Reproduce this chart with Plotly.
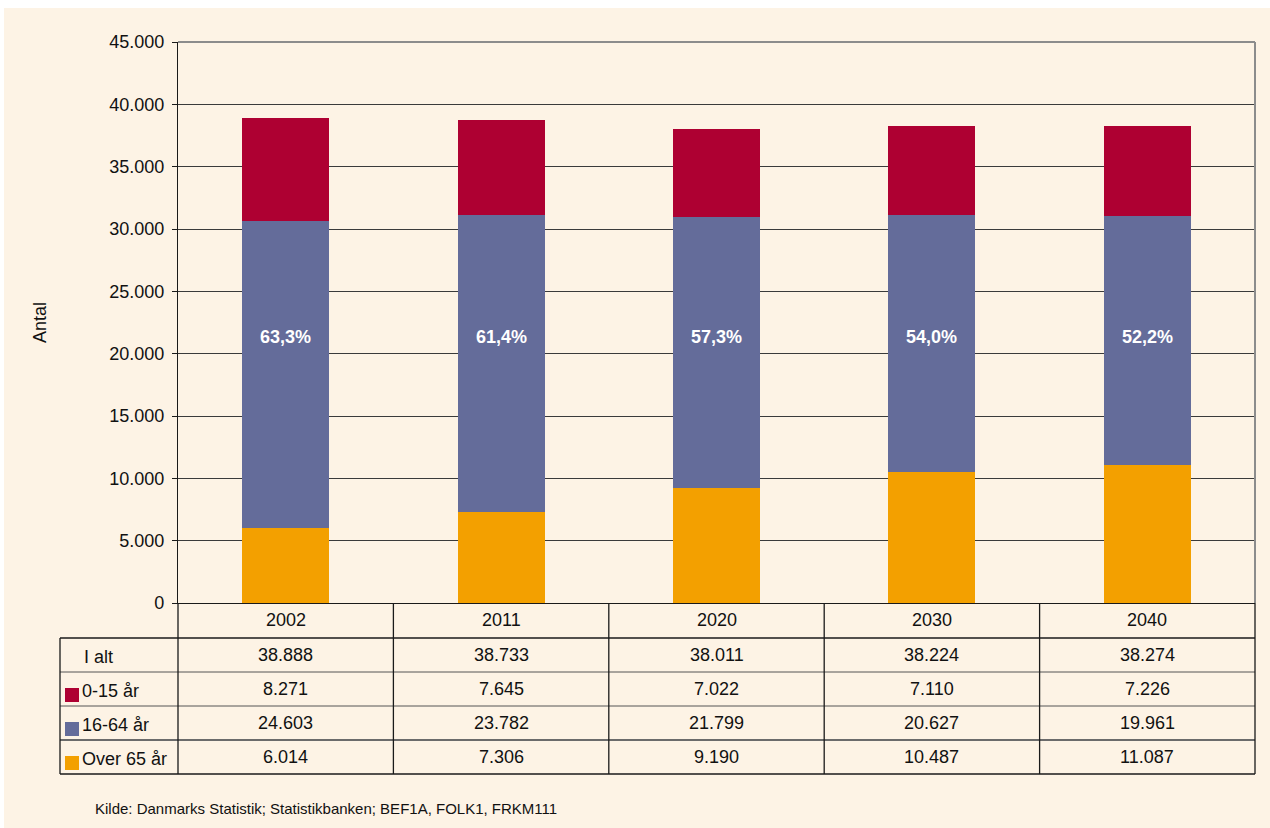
import plotly.graph_objects as go

years = ["2002", "2011", "2020", "2030", "2040"]
total = [38888, 38733, 38011, 38224, 38274]
age_0_15 = [8271, 7645, 7022, 7110, 7226]
age_16_64 = [24603, 23782, 21799, 20627, 19961]
age_65 = [6014, 7306, 9190, 10487, 11087]

colors = {"0-15 år": "#AE0032", "16-64 år": "#646C9A", "Over 65 år": "#F3A000"}

BG = "#FDF3E5"
FONT = "Liberation Sans, Arial, sans-serif"
FS = 18

W, H = 1270, 828
L, R, T, B = 178, 15, 42, 225
plot_h = H - T - B


def fmt(v):
    return f"{v:,}".replace(",", ".")


def py(pix):
    return (H - B - pix) / plot_h


def px(pix):
    return (pix - L) / (W - L - R)


fig = go.Figure()
fig.add_bar(x=years, y=age_65, name="Over 65 år", marker_color=colors["Over 65 år"], marker_line_width=0)
fig.add_bar(x=years, y=age_16_64, name="16-64 år", marker_color=colors["16-64 år"], marker_line_width=0)
fig.add_bar(x=years, y=age_0_15, name="0-15 år", marker_color=colors["0-15 år"], marker_line_width=0)

shapes = []
annotations = []

shapes.append(dict(type="rect", xref="paper", yref="paper", x0=px(4), x1=px(1275), y0=py(835), y1=py(8),
                   fillcolor=BG, line_width=0, layer="below"))

# category index of each year on the category x axis
for i, (mid, tot) in enumerate(zip(age_16_64, total)):
    annotations.append(dict(x=i, y=21300, xref="x", yref="y", text=f"{mid / tot * 100:.1f}%".replace(".", ","),
                            showarrow=False, yanchor="middle",
                            font=dict(color="white", size=FS, family=FONT, weight="bold")))

row_edges = [603, 638, 672, 706, 740, 774]
col_edges = [L + i * (1255 - L) / 5 for i in range(6)]
tbl_left = 60
dark = "#1a1a1a"
for i, yy in enumerate(row_edges[1:], start=1):
    color = dark if i in (1, 5) else "#555555"
    width = 1.3 if i in (1, 5) else 1
    if i == 4:
        color, width = "#6b6b6b", 2
    shapes.append(dict(type="line", xref="paper", yref="paper", x0=px(tbl_left), x1=px(1255), y0=py(yy), y1=py(yy),
                       line=dict(color=color, width=width)))
for xx in col_edges:
    shapes.append(dict(type="line", xref="paper", yref="paper", x0=px(xx), x1=px(xx), y0=py(603), y1=py(774),
                       line=dict(color=dark, width=1.3)))
shapes.append(dict(type="line", xref="paper", yref="paper", x0=px(tbl_left), x1=px(tbl_left), y0=py(638), y1=py(774),
                   line=dict(color=dark, width=1.3)))

rows = [("I alt", total, None), ("0-15 år", age_0_15, colors["0-15 år"]),
        ("16-64 år", age_16_64, colors["16-64 år"]), ("Over 65 år", age_65, colors["Over 65 år"])]
for r, (label, vals, col) in enumerate(rows):
    yc = (row_edges[r + 1] + row_edges[r + 2]) / 2
    if col:
        shapes.append(dict(type="rect", xref="paper", yref="paper", x0=px(65), x1=px(79), y0=py(yc + 13), y1=py(yc - 1),
                           fillcolor=col, line_width=0))
        annotations.append(dict(x=px(80), y=py(yc + 2), xref="paper", yref="paper", text=label, showarrow=False,
                                xanchor="left", yanchor="middle", font=dict(size=FS, family=FONT, color="#111")))
    else:
        annotations.append(dict(x=px(82), y=py(yc + 2), xref="paper", yref="paper", text=label, showarrow=False,
                                xanchor="left", yanchor="middle", font=dict(size=FS, family=FONT, color="#111")))
    for i, v in enumerate(vals):
        annotations.append(dict(x=i, y=py(yc), xref="x", yref="paper", text=fmt(v), showarrow=False,
                                yanchor="middle", font=dict(size=FS, family=FONT, color="#111")))

for i, yr in enumerate(years):
    annotations.append(dict(x=i, y=py(620), xref="x", yref="paper", text=yr, showarrow=False,
                            yanchor="middle", font=dict(size=FS, family=FONT, color="#111")))

annotations.append(dict(x=px(93), y=py(808), xref="paper", yref="paper",
                        text="Kilde: Danmarks Statistik; Statistikbanken; BEF1A, FOLK1, FRKM111",
                        showarrow=False, xanchor="left", yanchor="middle",
                        font=dict(size=15, family=FONT, color="#111")))

# gray frame on top and right of the plot area
shapes.append(dict(type="line", xref="paper", yref="paper", x0=1, x1=1, y0=0, y1=1,
                   line=dict(color="#8c8c8c", width=2)))
shapes.append(dict(type="line", xref="paper", yref="paper", x0=0, x1=1, y0=1, y1=1,
                   line=dict(color="#8c8c8c", width=2)))

fig.update_layout(
    width=W, height=H,
    barmode="stack",
    bargap=0.596,
    separators=",.",
    paper_bgcolor="white",
    plot_bgcolor=BG,
    showlegend=False,
    margin=dict(l=L, r=R, t=T, b=B, pad=0),
    font=dict(family=FONT, color="#111", size=FS),
    shapes=shapes,
    annotations=annotations,
    xaxis=dict(type="category", categoryorder="array", categoryarray=years, range=[-0.5, len(years) - 0.5],
               showticklabels=False, ticks="", showgrid=False, showline=True, linecolor=dark,
               linewidth=1.3, zeroline=False),
    yaxis=dict(range=[0, 45000], dtick=5000, tickformat=",d", showgrid=True, gridcolor="#3a3a3a", gridwidth=1,
               showline=True, linecolor=dark, linewidth=1.3, ticks="outside", ticklen=5, tickcolor=dark,
               ticklabelstandoff=4,
               zeroline=False, tickfont=dict(size=FS, family=FONT, color="#111"),
               title=dict(text="Antal", font=dict(size=FS, family=FONT, color="#111"), standoff=57)),
)

fig.write_html("out.html")
